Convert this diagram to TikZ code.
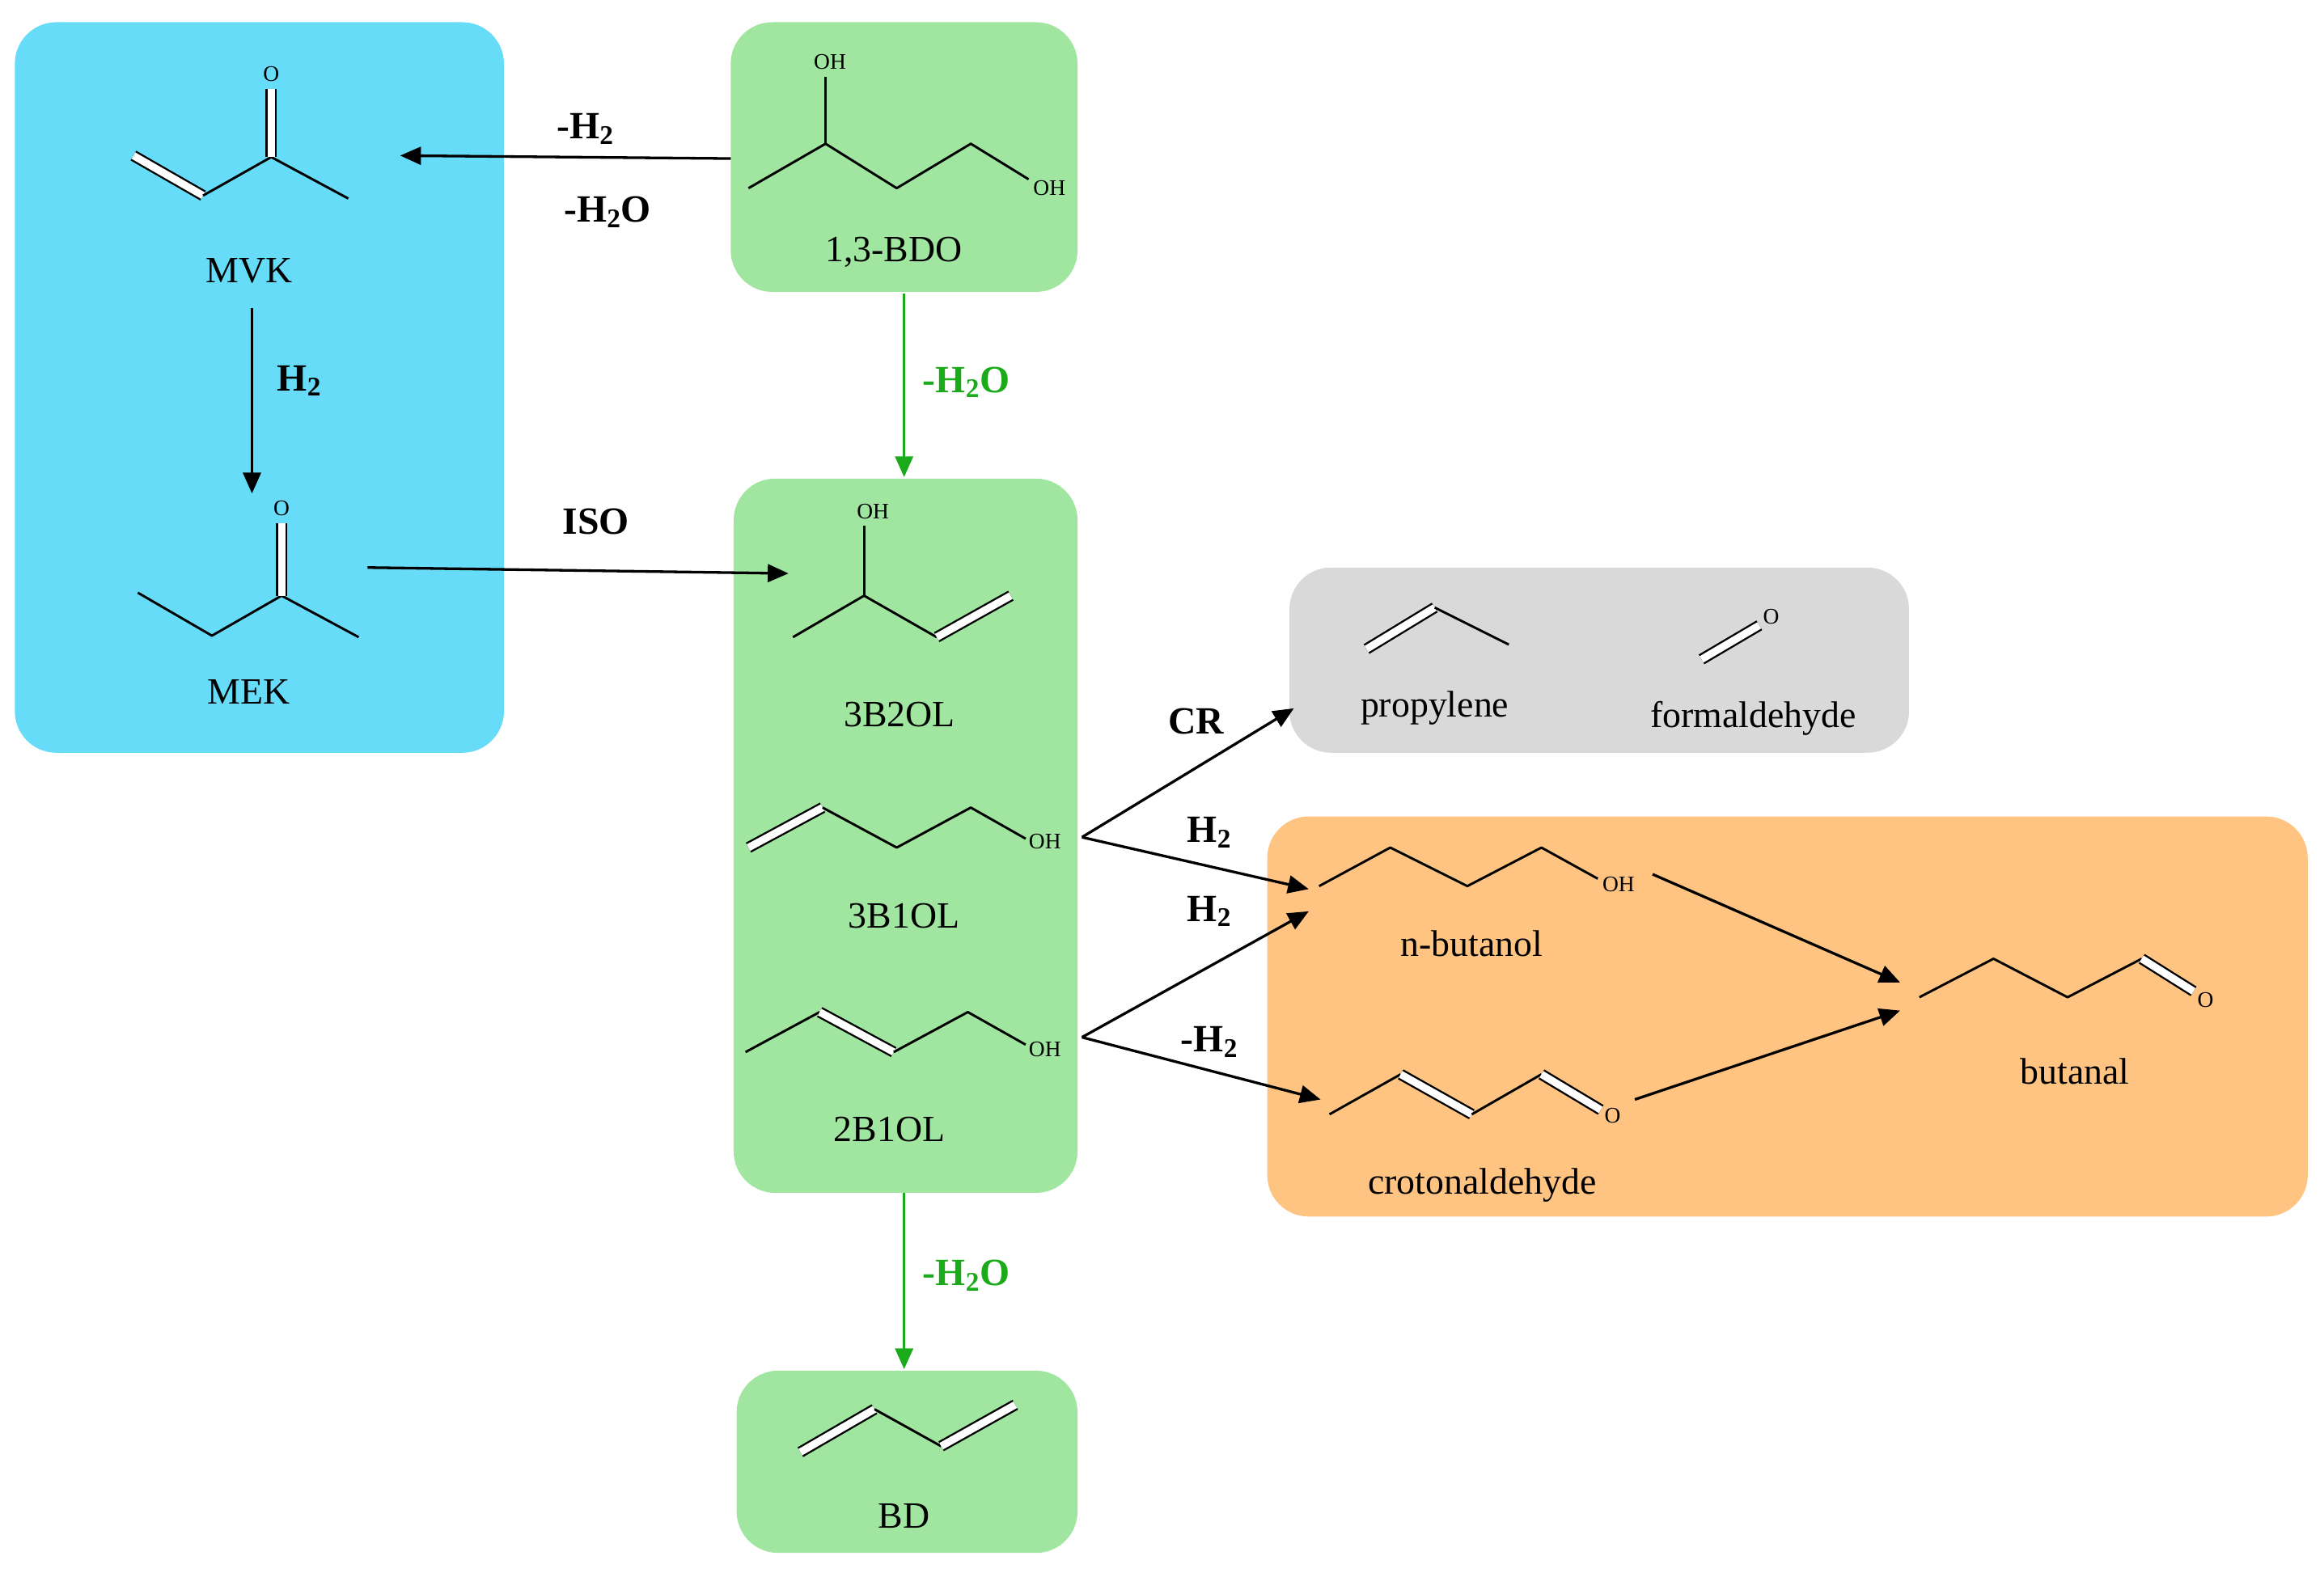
\documentclass[tikz,border=0pt]{standalone}
\usepackage{fontspec}
\setmainfont{Liberation Serif}
\usetikzlibrary{arrows.meta}
\definecolor{cyanbox}{HTML}{66DCF8}
\definecolor{greenbox}{HTML}{A0E6A0}
\definecolor{graybox}{HTML}{D9D9D9}
\definecolor{orangebox}{HTML}{FFC481}
\definecolor{garrow}{HTML}{1AAA1A}
\begin{document}
\begin{tikzpicture}[x=1pt,y=-1pt,
  box/.style={rounded corners=28pt},
  bond/.style={line width=1.6pt,line join=round},
  dbl/.style={line width=1.3pt,double,double distance=5pt},
  atom/.style={font=\fontsize{15}{16}\selectfont,inner sep=1pt,fill=none},
  lab/.style={font=\fontsize{25}{28}\selectfont},
  rlab/.style={font=\bfseries\fontsize{26}{28}\selectfont},
  arr/.style={line width=1.8pt,-{Triangle[length=14pt,width=12pt]}},
  garr/.style={arr,draw=garrow}]
\useasboundingbox (0,0) rectangle (1568,1064);
% boxes
\fill[cyanbox,box] (10,15) rectangle (340,508);
\fill[greenbox,box] (493,15) rectangle (727,197);
\fill[greenbox,box] (495,323) rectangle (727,805);
\fill[greenbox,box] (497,925) rectangle (727,1048);
\fill[graybox,box] (870,383) rectangle (1288,508);
\fill[orangebox,box] (855,551) rectangle (1557,821);
% MVK
\draw[dbl] (90,105)--(137,132);
\draw[bond] (137,132)--(183,106)--(235,134);
\draw[dbl] (183,106)--(183,60);
\node[atom] at (183,50) {O};
\node[lab] (mvk) at (168,183) {MVK};
% MEK
\draw[bond] (93,400)--(143,429)--(190,402)--(242,430);
\draw[dbl] (190,402)--(190,353);
\node[atom] at (190,343) {O};
\node[lab] (mek) at (168,467) {MEK};
% 1,3-BDO
\draw[bond] (505,127)--(557,97)--(605,127)--(655,97)--(694,121);
\draw[bond] (557,97)--(557,52);
\node[atom] at (560,42) {OH};
\node[atom] at (708,127) {OH};
\node[lab] (bdo) at (603,170) {1,3-BDO};
% 3B2OL
\draw[bond] (535,430)--(583,402)--(632,430);
\draw[dbl] (632,430)--(682,402);
\draw[bond] (583,402)--(583,355);
\node[atom] at (589,345) {OH};
\node[lab] (b2ol) at (607,482) {3B2OL};
% 3B1OL
\draw[dbl] (505,572)--(555,545);
\draw[bond] (555,545)--(605,572)--(655,545)--(692,566);
\node[atom] at (705,568) {OH};
\node[lab] (b1ol) at (610,618) {3B1OL};
% 2B1OL
\draw[bond] (503,710)--(553,683);
\draw[dbl] (553,683)--(603,710);
\draw[bond] (603,710)--(653,683)--(692,705);
\node[atom] at (705,708) {OH};
\node[lab] (bb1ol) at (600,762) {2B1OL};
% BD
\draw[dbl] (540,980)--(590,951);
\draw[bond] (590,951)--(635,976);
\draw[dbl] (635,976)--(685,948);
\node[lab] (bd) at (610,1023) {BD};
% propylene
\draw[dbl] (922,438)--(968,410);
\draw[bond] (968,410)--(1018,435);
\node[lab] (prop) at (968,478) {propylene};
% formaldehyde
\draw[dbl] (1148,445)--(1187,422);
\node[atom] at (1195,416) {O};
\node[lab] (form) at (1183,485) {formaldehyde};
% n-butanol
\draw[bond] (890,598)--(938,572)--(990,598)--(1040,572)--(1078,593);
\node[atom] at (1092,597) {OH};
\node[lab] (nbut) at (993,637) {n-butanol};
% crotonaldehyde
\draw[bond] (897,752)--(945,725);
\draw[dbl] (945,725)--(993,752);
\draw[bond] (993,752)--(1040,725);
\draw[dbl] (1040,725)--(1080,749);
\node[atom] at (1088,753) {O};
\node[lab] (crot) at (1000,800) {crotonaldehyde};
% butanal
\draw[bond] (1295,673)--(1345,647)--(1395,673)--(1445,647);
\draw[dbl] (1445,647)--(1480,669);
\node[atom] at (1488,675) {O};
\node[lab] (butl) at (1400,723) {butanal};
% arrow endpoints
\coordinate (a1s) at (493,107); \coordinate (a1e) at (270,105);
\coordinate (a2s) at (170,208); \coordinate (a2e) at (170,333);
\coordinate (a3s) at (248,383); \coordinate (a3e) at (532,387);
\coordinate (g1s) at (610,198); \coordinate (g1e) at (610,322);
\coordinate (g2s) at (610,805); \coordinate (g2e) at (610,924);
\coordinate (p1) at (730,565); \coordinate (p2) at (730,700);
\coordinate (cr) at (873,478); \coordinate (nb) at (883,600);
\coordinate (nb2) at (883,615); \coordinate (cro) at (891,742);
\coordinate (n1) at (1115,590); \coordinate (bt1) at (1282,663);
\coordinate (c1) at (1103,742); \coordinate (bt2) at (1282,682);
\draw[arr] (a1s)--(a1e);
\node[rlab] at (395,87) {-H\textsubscript{2}};
\node[rlab] at (410,143) {-H\textsubscript{2}O};
\draw[arr] (a2s)--(a2e);
\node[rlab] at (202,257) {H\textsubscript{2}};
\draw[arr] (a3s)--(a3e);
\node[rlab] at (402,352) {ISO};
\draw[garr] (g1s)--(g1e);
\node[rlab,text=garrow] at (652,258) {-H\textsubscript{2}O};
\draw[garr] (g2s)--(g2e);
\node[rlab,text=garrow] at (652,861) {-H\textsubscript{2}O};
\draw[arr] (p1)--(cr);
\node[rlab] at (807,487) {CR};
\draw[arr] (p1)--(nb);
\node[rlab] at (816,562) {H\textsubscript{2}};
\draw[arr] (p2)--(nb2);
\node[rlab] at (816,615) {H\textsubscript{2}};
\draw[arr] (p2)--(cro);
\node[rlab] at (816,703) {-H\textsubscript{2}};
\draw[arr] (n1)--(bt1);
\draw[arr] (c1)--(bt2);
\end{tikzpicture}
\end{document}
